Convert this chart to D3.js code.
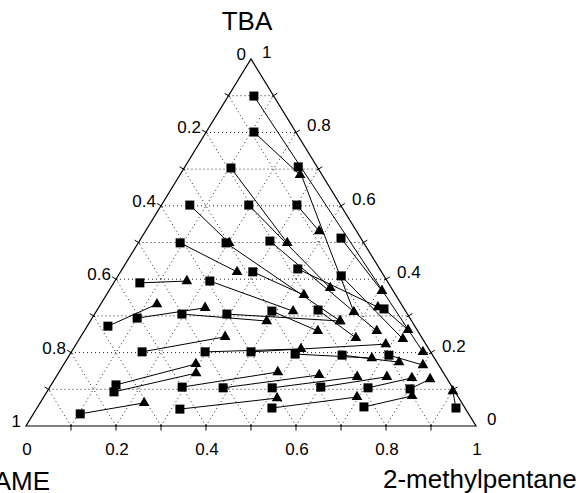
<!DOCTYPE html>
<html><head><meta charset="utf-8">
<script src="https://cdn.jsdelivr.net/npm/d3@7"></script>
<style>
body{margin:0;background:#fff}
svg{display:block}
text{font-family:"Liberation Sans",Arial,Helvetica,sans-serif;fill:#000}
</style>
</head><body>
<svg id="chart" width="582" height="493"></svg>
<script>
// Liquid (square) and vapour (triangle) compositions, mole fractions, one tie line per index
const liquidTBA = [0.899,0.801,0.703,0.706,0.602,0.602,0.602,0.499,0.499,0.504,0.512,0.395,0.420,0.428,0.409,0.390,0.272,0.294,0.305,0.305,0.313,0.316,0.319,0.202,0.202,0.202,0.196,0.193,0.193,0.112,0.093,0.106,0.104,0.104,0.106,0.104,0.101,0.033,0.046,0.049,0.052,0.049];
const liquidMP  = [0.057,0.106,0.104,0.252,0.063,0.194,0.301,0.093,0.195,0.290,0.444,0.211,0.294,0.390,0.496,0.058,0.046,0.100,0.194,0.294,0.390,0.491,0.636,0.157,0.297,0.399,0.500,0.606,0.710,0.144,0.149,0.294,0.386,0.495,0.602,0.708,0.803,0.104,0.319,0.522,0.725,0.931];
const vaporTBA  = [0.202,0.684,0.499,0.311,0.499,0.376,0.531,0.420,0.286,0.259,0.368,0.313,0.357,0.324,0.237,0.395,0.332,0.322,0.286,0.286,0.259,0.240,0.262,0.243,0.210,0.223,0.185,0.174,0.166,0.169,0.144,0.147,0.139,0.134,0.134,0.131,0.128,0.063,0.076,0.079,0.082,0.095];
const vaporMP   = [0.781,0.267,0.331,0.573,0.202,0.488,0.386,0.259,0.555,0.650,0.607,0.437,0.439,0.620,0.719,0.160,0.125,0.237,0.392,0.555,0.519,0.613,0.718,0.321,0.506,0.688,0.676,0.742,0.799,0.293,0.306,0.486,0.582,0.669,0.735,0.792,0.834,0.231,0.520,0.696,0.817,0.901];

const tickValues = [0,0.2,0.4,0.6,0.8,1];
const tickLabels = ["0","0.2","0.4","0.6","0.8","1"];
const gridValues = [0.1,0.2,0.3,0.4,0.5,0.6,0.7,0.8,0.9];
const vertexNames = {top:"TBA", left:"TAME", right:"2-methylpentane"};

const svg = d3.select("#chart");
const sx = d3.scaleLinear().domain([0,1]).range([26,476]);
const sy = d3.scaleLinear().domain([0,1]).range([426,59]);
// ternary projection: (TBA, 2-methylpentane) -> pixel
const P = (tba, mp) => [sx(mp + tba/2), sy(tba)];

// grid
const grid = svg.append("g").attr("stroke","#222").attr("stroke-width",1).attr("stroke-dasharray","1 3").attr("fill","none");
gridValues.forEach(v => {
  const segs = [
    [P(v,0), P(v,1-v)],          // constant TBA
    [P(0,v), P(1-v,v)],          // constant 2-methylpentane
    [P(0,1-v), P(1-v,0)]         // constant TAME
  ];
  segs.forEach(s => grid.append("line").attr("x1",s[0][0]).attr("y1",s[0][1]).attr("x2",s[1][0]).attr("y2",s[1][1]));
});

// triangle frame
const A = P(0,0), B = P(0,1), C = P(1,0);
svg.append("path").attr("d",`M${A}L${B}L${C}Z`).attr("fill","none").attr("stroke","#000").attr("stroke-width",1.2);

// ticks (perpendicular to each edge)
function norm(dx,dy){const l=Math.hypot(dx,dy);return [dx/l,dy/l];}
const nBottom=[0,1];
const nLeft = norm(-(C[1]-A[1]), (C[0]-A[0])).map(d=>-d);
const nRight = norm((C[1]-B[1]), -(C[0]-B[0])).map(d=>-d);
const ticksG = svg.append("g").attr("stroke","#000").attr("stroke-width",1);
gridValues.forEach(v=>{
  const pts = [[P(0,v),nBottom],[P(1-v,0),nLeft],[P(v,1-v),nRight]];
  pts.forEach(([p,n])=>{
    ticksG.append("line").attr("x1",p[0]-n[0]*2).attr("y1",p[1]-n[1]*2).attr("x2",p[0]+n[0]*4.5).attr("y2",p[1]+n[1]*4.5);
  });
});

// tick labels
const lab = svg.append("g").attr("font-size",17);
tickValues.forEach((v,i)=>{
  const pb = P(0,v);
  lab.append("text").attr("x",pb[0]+1).attr("y",pb[1]+29).attr("text-anchor","middle").text(tickLabels[i]);
  const pl = P(1-v,0);  // TAME = v
  lab.append("text").attr("x",pl[0]-5).attr("y",pl[1]+1).attr("text-anchor","end").text(tickLabels[i]);
  const pr = P(v,1-v);  // TBA = v
  lab.append("text").attr("x",pr[0]+11).attr("y",pr[1]-1).attr("text-anchor","start").text(tickLabels[i]);
});

// vertex titles
svg.append("text").attr("x",247).attr("y",30).attr("text-anchor","middle").attr("font-size",26).text(vertexNames.top);
svg.append("text").attr("x",50).attr("y",490).attr("text-anchor","end").attr("font-size",26).text(vertexNames.left);
svg.append("text").attr("x",383).attr("y",488).attr("text-anchor","start").attr("font-size",26).text(vertexNames.right);

// tie lines
const ties = liquidTBA.map((t,i)=>({l:P(t,liquidMP[i]), v:P(vaporTBA[i],vaporMP[i])}));
svg.append("g").attr("stroke","#000").attr("stroke-width",1).selectAll("line").data(ties).join("line")
  .attr("x1",d=>d.l[0]).attr("y1",d=>d.l[1]).attr("x2",d=>d.v[0]).attr("y2",d=>d.v[1]);

// markers
const sq = 9;
svg.append("g").selectAll("rect").data(ties).join("rect")
  .attr("x",d=>d.l[0]-sq/2).attr("y",d=>d.l[1]-sq/2).attr("width",sq).attr("height",sq).attr("fill","#000");
const tri = d3.symbol().type(d3.symbolTriangle).size(50);
svg.append("g").selectAll("path").data(ties).join("path")
  .attr("d",tri).attr("transform",d=>`translate(${d.v[0]},${d.v[1]})`).attr("fill","#000");
</script>
</body></html>
